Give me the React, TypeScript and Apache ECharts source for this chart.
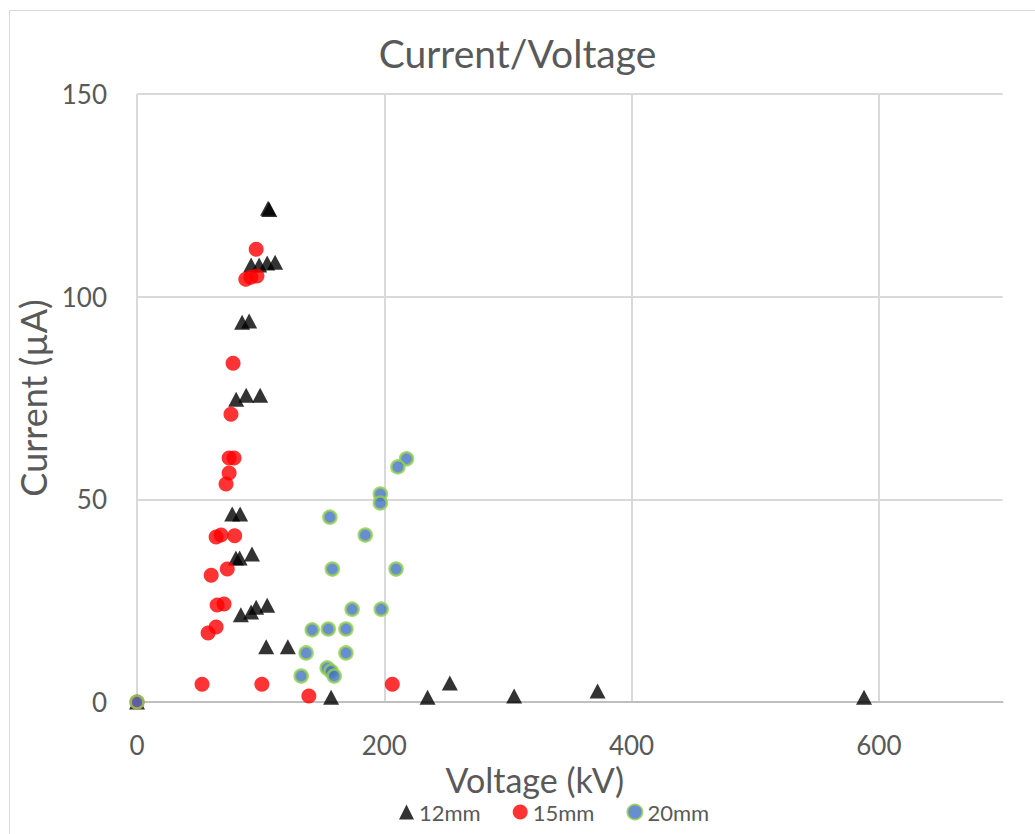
import React, { useEffect, useRef } from "react";
import * as echarts from "echarts";

const titleText = "Current/Voltage";
const xAxisName = "Voltage (kV)";
const yAxisName = "Current (µA)";
const seriesNames = ["12mm", "15mm", "20mm"];

const data12mm: number[][] = [
  [0, 0],
  [106, 121.8], [107, 121.5],
  [92.3, 107.8], [98.8, 107.8], [105.3, 108.3], [111.7, 108.5],
  [85, 93.7], [90.7, 94],
  [80.2, 74.7], [88.3, 75.7], [99.6, 75.7],
  [77, 46.4], [83.4, 46.4],
  [80, 35.5], [83, 35.5], [93, 36.5],
  [84, 21.5], [92.3, 22.2], [96.4, 23.4], [105.3, 23.9],
  [104.5, 13.6], [122, 13.6],
  [157, 1.2], [235, 1.2], [253, 4.7], [305, 1.5], [372.5, 2.7], [588, 1.2],
];

const data15mm: number[][] = [
  [0, 0],
  [96.4, 111.7], [88, 104.3], [92, 104.8], [97, 105.1],
  [77.7, 83.6], [76, 71],
  [74.5, 60.2], [78.5, 60.2], [74.5, 56.5], [72, 53.8],
  [64, 40.7], [68, 41.2], [79, 41],
  [60, 31.3], [73, 32.8],
  [64.8, 23.9], [70.4, 24.2],
  [57.5, 17], [64, 18.5],
  [52.6, 4.4], [101, 4.4], [139, 1.5], [206.5, 4.4],
];

const data20mm: number[][] = [
  [0, 0],
  [218, 60], [211, 58], [196.8, 51.3], [196.8, 49.1],
  [156, 45.6], [184.6, 41.2],
  [158, 32.8], [209.5, 32.8],
  [174, 22.9], [197.5, 22.9],
  [141.7, 17.8], [154.7, 18], [169, 18],
  [136.8, 12.1], [169, 12.1],
  [132.8, 6.4], [153.8, 8.4], [157, 7.6], [159.5, 6.4],
];

const FONT = "Lato, 'Open Sans', sans-serif";
const TEXT = "#595959";

export default function App() {
  const ref = useRef<HTMLDivElement>(null);
  useEffect(() => {
    document.body.style.margin = "0";
    if (!ref.current) return;
    const chart = echarts.init(ref.current, undefined, { renderer: "svg" });
    chart.setOption({
      animation: false,
      backgroundColor: "#ffffff",
      textStyle: { fontFamily: FONT, color: TEXT },
      title: {
        text: titleText,
        left: "center",
        top: 28,
        textStyle: { fontFamily: FONT, fontSize: 39, fontWeight: "normal", color: TEXT },
      },
      graphic: [
        {
          type: "rect",
          shape: { x: 9.5, y: 10.5, width: 1200, height: 1000 },
          style: { fill: "none", stroke: "#d9d9d9", lineWidth: 1 },
          silent: true,
        },
      ],
      grid: { left: 137, right: 32.5, top: 94, bottom: 132 },
      legend: {
        top: 796,
        left: 394,
        itemGap: 32,
        itemWidth: 15,
        itemHeight: 15,
        textStyle: { fontFamily: FONT, fontSize: 22, color: TEXT },
        data: [
          { name: seriesNames[0], icon: "triangle" },
          { name: seriesNames[1], icon: "circle" },
          { name: seriesNames[2], icon: "circle" },
        ],
      },
      xAxis: {
        type: "value",
        min: 0,
        max: 700,
        interval: 200,
        name: xAxisName,
        nameLocation: "middle",
        nameGap: 48,
        nameTextStyle: {
          fontFamily: FONT,
          fontSize: 34,
          color: TEXT,
          padding: [0, 70, 0, 0],
        },
        axisLine: { show: true, onZero: false, lineStyle: { color: "#bfbfbf", width: 2 } },
        axisTick: { show: false },
        axisLabel: {
          fontFamily: FONT,
          fontSize: 26,
          color: TEXT,
          margin: 30,
          showMaxLabel: false,
        },
        splitLine: {
          show: true,
          lineStyle: {
            color: ["#d9d9d9", "#d9d9d9", "#d9d9d9", "#d9d9d9", "rgba(0,0,0,0)"],
            width: 2,
          },
        },
      },
      yAxis: {
        type: "value",
        min: 0,
        max: 150,
        interval: 50,
        name: yAxisName,
        nameLocation: "middle",
        nameGap: 83,
        nameTextStyle: { fontFamily: FONT, fontSize: 36, color: TEXT },
        axisLine: { show: false },
        axisTick: { show: false },
        axisLabel: { fontFamily: FONT, fontSize: 26, color: TEXT, margin: 30 },
        splitLine: { show: true, lineStyle: { color: "#d9d9d9", width: 2 } },
      },
      series: [
        {
          name: seriesNames[0],
          type: "scatter",
          symbol: "triangle",
          symbolSize: [16, 15],
          itemStyle: { color: "#000000" },
          data: data12mm,
        },
        {
          name: seriesNames[1],
          type: "scatter",
          symbol: "circle",
          symbolSize: 15,
          itemStyle: { color: "#ff0000" },
          data: data15mm,
        },
        {
          name: seriesNames[2],
          type: "scatter",
          symbol: "circle",
          symbolSize: 13,
          itemStyle: { color: "#4472c4", borderColor: "#92d050", borderWidth: 2.5 },
          data: data20mm,
        },
      ],
    });
    return () => chart.dispose();
  }, []);
  return <div ref={ref} style={{ width: 1035, height: 834 }} />;
}
